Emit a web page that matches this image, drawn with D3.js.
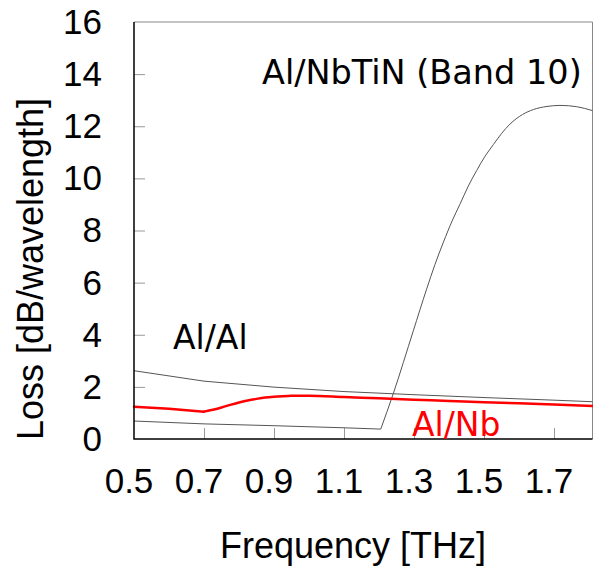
<!DOCTYPE html>
<html>
<head>
<meta charset="utf-8">
<script src="https://cdn.jsdelivr.net/npm/d3@7"></script>
<style>
  html, body { margin: 0; padding: 0; background: #fff; }
  svg { display: block; }
</style>
</head>
<body>
<svg id="chart" width="593" height="566"></svg>
<script>
// Transmission-line loss vs. frequency for three electrode combinations
const freqAlAl   = [0.5, 0.7, 0.9, 1.1, 1.3, 1.5, 1.7, 1.81];
const lossAlAl   = [2.62, 2.22, 1.99, 1.82, 1.70, 1.59, 1.49, 1.43];

const freqAlNb   = [0.5, 0.6, 0.7, 0.725, 0.75, 0.775, 0.8, 0.825, 0.85, 0.875, 0.9, 0.925, 0.95, 0.975, 1.0,
                    1.1, 1.2, 1.3, 1.4, 1.5, 1.6, 1.7, 1.81];
const lossAlNb   = [1.24, 1.16, 1.05, 1.12, 1.21, 1.31, 1.40, 1.48, 1.54, 1.59, 1.62, 1.64, 1.655, 1.66, 1.66,
                    1.61, 1.56, 1.51, 1.46, 1.41, 1.37, 1.32, 1.27];

const freqNbTiN  = [0.5, 0.7, 0.9, 1.0, 1.1, 1.205, 1.241, 1.298, 1.336, 1.36, 1.384, 1.41, 1.431, 1.455, 1.479,
                    1.503, 1.527, 1.55, 1.574, 1.61, 1.641, 1.68, 1.717, 1.765, 1.81];
const lossNbTiN  = [0.69, 0.58, 0.51, 0.47, 0.43, 0.38, 1.75, 4.15, 5.75, 6.7, 7.55, 8.4, 9.0, 9.7, 10.3,
                    10.85, 11.3, 11.72, 12.08, 12.45, 12.64, 12.76, 12.8, 12.75, 12.6];

const xTicks = [0.5, 0.7, 0.9, 1.1, 1.3, 1.5, 1.7];
const yTicks = [0, 2, 4, 6, 8, 10, 12, 14, 16];

const svg = d3.select("#chart");
const plotL = 134, plotR = 592.5, plotT = 22, plotB = 439;

const x = d3.scaleLinear().domain([0.5, 1.81]).range([plotL, plotR]);
const y = d3.scaleLinear().domain([0, 16]).range([plotB, plotT]);

// frame: light top/right edges
svg.append("path")
  .attr("d", `M${plotL},${plotT}H${plotR}V${plotB}`)
  .attr("fill", "none").attr("stroke", "#888").attr("stroke-width", 1);

// inward ticks
const xAxis = d3.axisBottom(x).tickValues(xTicks.slice(1)).tickSize(-11).tickFormat("");
const gx = svg.append("g").attr("transform", `translate(0,${plotB})`).call(xAxis);
gx.select(".domain").remove();
gx.selectAll(".tick line").attr("stroke", "#999");

const yAxis = d3.axisLeft(y).tickValues(yTicks.slice(1, -1)).tickSize(-11).tickFormat("");
const gy = svg.append("g").attr("transform", `translate(${plotL},0)`).call(yAxis);
gy.select(".domain").remove();
gy.selectAll(".tick line").attr("stroke", "#999");

// tick labels
svg.append("g").selectAll("text").data(xTicks).join("text")
  .attr("x", d => x(d) - 5).attr("y", 493)
  .attr("text-anchor", "middle")
  .attr("font-family", "'Liberation Sans', Arial, sans-serif")
  .attr("font-size", 35).attr("fill", "#000")
  .text(d => d.toFixed(1));

svg.append("g").selectAll("text").data(yTicks).join("text")
  .attr("x", 102).attr("y", d => y(d))
  .attr("dy", "0.34em")
  .attr("text-anchor", "end")
  .attr("font-family", "'Liberation Sans', Arial, sans-serif")
  .attr("font-size", 35).attr("fill", "#000")
  .text(d => d);

// axis titles
svg.append("text")
  .attr("x", 353).attr("y", 558)
  .attr("text-anchor", "middle")
  .attr("font-family", "'Liberation Sans', Arial, sans-serif")
  .attr("font-size", 36).attr("fill", "#000")
  .text("Frequency [THz]");

svg.append("text")
  .attr("transform", "translate(43,269) rotate(-90)")
  .attr("text-anchor", "middle")
  .attr("font-family", "'Liberation Sans', Arial, sans-serif")
  .attr("font-size", 36).attr("fill", "#000")
  .text("Loss [dB/wavelength]");

// series
const zip = (a, b) => a.map((v, i) => [v, b[i]]);
const lineLin = d3.line().x(d => x(d[0])).y(d => y(d[1])).curve(d3.curveLinear);
const lineSmooth = d3.line().x(d => x(d[0])).y(d => y(d[1])).curve(d3.curveMonotoneX);

svg.append("path").datum(zip(freqAlAl, lossAlAl))
  .attr("d", lineLin).attr("fill", "none").attr("stroke", "#555").attr("stroke-width", 1);

// NbTiN: straight run below the gap edge, smooth rise above it (sharp corner at the edge)
const nbtin = zip(freqNbTiN, lossNbTiN);
const edge = d3.minIndex(lossNbTiN);
svg.append("path").datum(nbtin.slice(0, edge + 1))
  .attr("d", lineLin).attr("fill", "none").attr("stroke", "#555").attr("stroke-width", 1);
svg.append("path").datum(nbtin.slice(edge))
  .attr("d", lineSmooth).attr("fill", "none").attr("stroke", "#555").attr("stroke-width", 1);

// Al/Nb: straight to the dip, smooth after it
const alnb = zip(freqAlNb, lossAlNb);
const dip = d3.minIndex(lossAlNb);
svg.append("path").datum(alnb.slice(0, dip + 1))
  .attr("d", lineLin).attr("fill", "none").attr("stroke", "#ff0000").attr("stroke-width", 2.5)
  .attr("stroke-linecap", "round");
svg.append("path").datum(alnb.slice(dip))
  .attr("d", lineSmooth).attr("fill", "none").attr("stroke", "#ff0000").attr("stroke-width", 2.5)
  .attr("stroke-linecap", "round");

// main axes lines (left and bottom)
svg.append("path")
  .attr("d", `M${plotL},${plotT}V${plotB}H${plotR}`)
  .attr("fill", "none").attr("stroke", "#000").attr("stroke-width", 1.5);

// series labels
svg.append("text").attr("x", 262).attr("y", 84)
  .attr("font-family", "'DejaVu Sans', Verdana, sans-serif")
  .attr("font-size", 33.5).attr("fill", "#000")
  .text("Al/NbTiN (Band 10)");

svg.append("text").attr("x", 173).attr("y", 349)
  .attr("font-family", "'DejaVu Sans', Verdana, sans-serif")
  .attr("font-size", 33).attr("fill", "#000")
  .text("Al/Al");

svg.append("text").attr("x", 412).attr("y", 436)
  .attr("font-family", "'DejaVu Sans', Verdana, sans-serif")
  .attr("font-size", 33).attr("fill", "#ff0000")
  .text("Al/Nb");
</script>
</body>
</html>
